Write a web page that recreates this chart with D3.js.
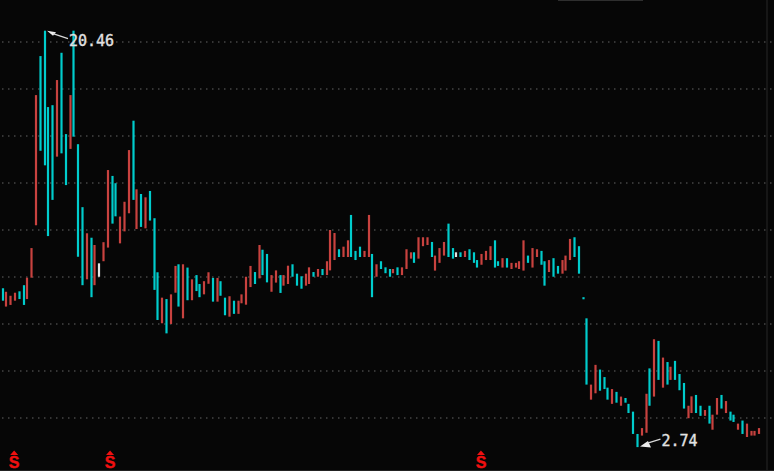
<!DOCTYPE html>
<html><head><meta charset="utf-8">
<script src="https://cdn.jsdelivr.net/npm/d3@7/dist/d3.min.js"></script>
<style>html,body{margin:0;padding:0;background:#060606;overflow:hidden}svg{display:block}</style>
</head><body><div id="chart"></div>
<script>
const highs = [
9.50,9.35,9.18,9.31,9.37,9.63,9.95,11.21,17.72,19.38,
20.46,17.21,17.29,18.36,19.52,16.06,17.72,20.46,15.63,12.95,
11.84,11.65,11.34,10.56,11.46,14.53,14.28,13.97,12.55,13.18,
15.38,16.63,13.71,13.51,13.37,13.64,12.48,10.18,9.10,9.04,
9.24,10.45,10.52,10.52,10.38,9.88,10.06,9.68,9.80,10.18,
9.94,9.94,9.80,9.10,9.16,8.97,8.97,9.24,9.99,10.45,
10.19,11.34,11.14,10.96,10.06,10.26,10.06,10.06,10.46,10.52,
10.12,10.01,10.12,10.39,10.19,10.32,10.32,10.65,11.98,11.85,
11.16,11.27,11.54,12.62,11.09,11.27,11.09,12.62,10.96,10.52,
10.65,10.39,10.32,10.32,10.39,10.39,11.16,11.03,11.03,11.67,
11.67,11.67,11.47,10.89,11.21,11.47,12.25,11.21,11.03,11.03,
11.09,11.16,11.03,10.70,10.96,11.09,11.29,11.54,10.65,10.78,
10.78,10.58,10.58,10.65,11.54,10.89,11.21,11.16,11.09,10.65,
10.70,10.78,10.45,10.70,10.89,11.60,11.67,11.29,9.12,8.22,
5.40,6.24,6.04,5.72,5.27,5.21,5.09,4.89,4.83,4.58,
4.25,3.30,3.55,5.01,6.09,7.33,7.26,6.55,6.36,6.16,
6.41,5.85,5.47,4.50,4.90,4.96,4.50,4.32,4.50,4.12,
4.83,4.96,4.70,4.25,4.12,3.74,3.87,3.74,3.43,3.43,3.55];
const lows = [
8.97,8.72,8.79,8.97,9.04,8.79,9.04,9.95,12.18,15.35,
14.73,11.72,13.26,15.10,15.24,13.89,15.43,15.95,10.84,9.63,
9.88,9.12,9.63,9.99,10.65,11.23,12.25,12.56,11.41,11.92,
12.69,13.26,12.02,12.11,12.05,12.38,9.43,8.15,8.01,7.58,
7.98,9.31,8.72,8.22,8.99,8.99,9.38,9.12,9.24,9.69,
8.93,8.93,9.18,8.35,8.29,8.41,8.41,8.86,8.80,9.55,
9.68,9.92,10.06,9.75,9.35,9.74,9.30,9.61,9.68,9.99,
9.61,9.48,9.61,9.68,9.99,9.99,10.06,10.06,10.26,10.70,
10.83,10.83,10.83,10.83,10.70,10.83,10.83,10.83,9.12,9.99,
10.32,10.14,9.99,10.14,10.06,10.06,10.32,10.76,10.58,10.76,
11.29,11.34,10.83,10.25,10.58,10.89,10.83,10.76,10.83,10.83,
10.83,10.70,10.58,10.38,10.50,10.70,10.70,10.38,10.45,10.38,
10.38,10.32,10.38,10.32,10.25,10.58,10.38,10.83,10.50,9.61,
10.19,9.99,10.12,10.12,10.25,10.70,10.83,10.12,9.03,5.40,
4.76,5.03,5.14,5.21,4.76,4.58,4.63,4.50,4.63,4.19,
3.30,2.74,3.23,3.35,4.50,4.89,5.60,5.27,5.40,5.60,
5.60,5.16,4.38,3.97,4.19,4.19,4.07,4.07,3.74,3.48,
4.12,4.38,4.19,3.87,3.81,3.48,3.30,3.17,3.23,3.23,3.30];
const tones = ("DUUUDDUUUD"+"DDDUDDUDDD"+"UDUFUUDDUU"+"UDUDUDDDUD"+"UUDUDUDDUU"+"DUDDUDUUUU"+
  "DUDDUUDUUD"+"DDUUDUDUUU"+"DUUDDDUUDU"+"DDDUDUUUDU"+"UUDUUUDDFD"+"UDDDUUUDDU"+"DUUUUDUUDD"+
  "UDDUUUDDDD"+"UUDDDUDUDD"+"DDUUDUDUDU"+"DDDUUDDUDU"+"UDUDDUDUUUU").split("");
const gridTicks = [4,6,8,10,12,14,16,18,20];
const signalBars = [2.6,25.4,113.6];
const peakLabel = {bar:10, value:20.46, text:"20.46"};
const troughLabel = {bar:151, value:2.74, text:"2.74"};
const toneColor = {U:"#c8423f", D:"#00cccc", F:"#e4e4e4"};

const W=774,H=471;
const svg=d3.select("#chart").append("svg").attr("width",W).attr("height",H);
svg.append("rect").attr("width",W).attr("height",H).attr("fill","#060606");

const y=d3.scaleLinear().domain([4,20]).range([417.5,41.5]);
const xRaw=d3.scaleLinear().domain([0,180]).range([3.23,760.2]);
const x=i=>3+1.5*Math.floor((xRaw(i)-3)/1.5);   // the platform snaps bars to its pixel grid

// frame
svg.append("line").attr("x1",767).attr("x2",767).attr("y1",0).attr("y2",H).attr("stroke","#1c1c1c").attr("stroke-width",1.5);
svg.append("line").attr("x1",0).attr("x2",W).attr("y1",470.5).attr("y2",470.5).attr("stroke","#222");
svg.append("line").attr("x1",558).attr("x2",643).attr("y1",0.5).attr("y2",0.5).attr("stroke","#2e2e2e");

// dotted grid
const yAxis=d3.axisRight(y).tickValues(gridTicks).tickSize(772).tickFormat("");
const gy=svg.append("g").call(yAxis);
gy.select(".domain").remove();
gy.selectAll("line").attr("stroke","#454545").attr("stroke-width",1.5).attr("stroke-dasharray","1.5 4.5").attr("transform","translate(2,0)");

// bars
svg.append("g").selectAll("line").data(highs).join("line")
  .attr("x1",(d,i)=>x(i)).attr("x2",(d,i)=>x(i))
  .attr("y1",d=>y(d)).attr("y2",(d,i)=>y(lows[i]))
  .attr("stroke",(d,i)=>toneColor[tones[i]]).attr("stroke-width",2.2);

// extreme annotations
const ann=svg.append("g");
function note(a,head,start,end,tx,ty){
  const px=x(a.bar), py=y(a.value);
  ann.append("path").attr("d","M"+head.map(h=>[px+h[0],py+h[1]].join(",")).join("L")+"Z").attr("fill","#ececec");
  ann.append("line").attr("x1",px+start[0]).attr("y1",py+start[1]).attr("x2",px+end[0]).attr("y2",py+end[1])
    .attr("stroke","#d8d8d8").attr("stroke-width",1.3);
  ann.append("text").attr("x",tx).attr("y",ty).text(a.text).attr("fill","#e2e2e2")
    .attr("stroke","#e2e2e2").attr("stroke-width",0.35)
    .attr("font-family","'DejaVu Sans Mono',monospace").attr("font-size",15);
}
note(peakLabel,[[2,0],[11,1.5],[8,5]],[8,3],[23,8],69,45.5);
note(troughLabel,[[2.5,-0.5],[10.5,-6],[13.5,0.5]],[10,-4],[23,-8],661.5,446);

// signal markers
const sig=svg.append("g").selectAll("g").data(signalBars).join("g").attr("transform",d=>`translate(${xRaw(d)},0)`);
sig.append("path").attr("d","M-4,455 L0,450.5 L4,455 Z").attr("fill","#f01010");
sig.append("text").attr("y",467.5).attr("text-anchor","middle").text("S").attr("fill","#f01010")
  .attr("stroke","#f01010").attr("stroke-width",0.4)
  .attr("font-family","'Liberation Sans',Arial,sans-serif").attr("font-weight","bold").attr("font-size",16);
</script></body></html>
